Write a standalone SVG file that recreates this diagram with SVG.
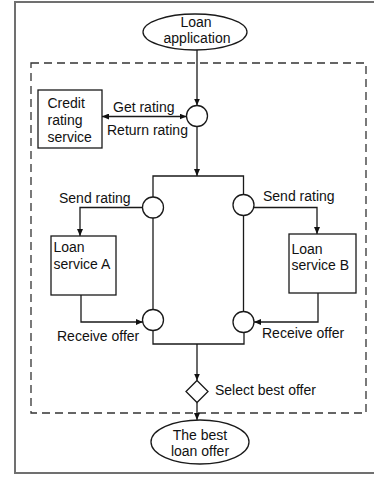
<svg xmlns="http://www.w3.org/2000/svg" width="374" height="477" viewBox="0 0 374 477">
  <defs>
    <marker id="arr" markerUnits="userSpaceOnUse" markerWidth="8" markerHeight="6" refX="7" refY="3" orient="auto-start-reverse">
      <path d="M0,0 L7,3 L0,6 z" fill="#111"/>
    </marker>
  </defs>
  <style>
    .shape { fill: #fff; stroke: #1a1a1a; stroke-width: 1.3; }
    .line { fill: none; stroke: #1a1a1a; stroke-width: 1.3; }
    .arrow { marker-end: url(#arr); }
    text { font-family: "Liberation Sans", Arial, sans-serif; font-size: 14px; fill: #111; }
    .mid { text-anchor: middle; }
  </style>

  <rect width="374" height="477" fill="#fff"/>
  <!-- outer frame -->
  <rect x="15" y="2" width="362" height="471" fill="none" stroke="#707070" stroke-width="2"/>
  <!-- process scope -->
  <rect x="31" y="63" width="335" height="350" fill="none" stroke="#333" stroke-width="1.3" stroke-dasharray="8 5"/>

  <g id="connectors">
    <line class="line arrow" x1="197" y1="50" x2="197" y2="105.5"/>
    <line class="line arrow" x1="102" y1="116.5" x2="186.5" y2="116.5" marker-start="url(#arr)"/>
    <line class="line arrow" x1="197" y1="126.5" x2="197" y2="176"/>
    <polyline class="line" points="153,197 153,176 243.5,176 243.5,194.5"/>
    <polyline class="line arrow" points="142.5,207.5 80,207.5 80,236"/>
    <polyline class="line arrow" points="254,207.5 317,207.5 317,234"/>
    <line class="line" x1="153" y1="218" x2="153" y2="309.5"/>
    <line class="line" x1="243.5" y1="216" x2="243.5" y2="311.5"/>
    <polyline class="line arrow" points="81,295 81,322 142.8,322"/>
    <polyline class="line arrow" points="318,293 318,322 254,322"/>
    <polyline class="line" points="153,330.5 153,344 244,344 244,332.5"/>
    <line class="line arrow" x1="197" y1="344" x2="197" y2="380.5"/>
    <line class="line arrow" x1="197" y1="402.5" x2="197" y2="420"/>
  </g>

  <g id="loan-application">
    <ellipse class="shape" cx="195" cy="32" rx="52" ry="18"/>
    <text class="mid" x="196" y="27">Loan</text>
    <text class="mid" x="197" y="43">application</text>
  </g>

  <g id="rating-gateway">
    <circle class="shape" cx="197" cy="116" r="10.5"/>
  </g>

  <g id="credit-rating-service">
    <rect class="shape" x="38" y="90" width="64" height="58"/>
    <text x="47.5" y="108">Credit</text>
    <text x="47.5" y="125">rating</text>
    <text x="47.5" y="142">service</text>
  </g>
  <text x="113" y="112">Get rating</text>
  <text x="107" y="135">Return rating</text>

  <g id="send-a">
    <circle class="shape" cx="153" cy="207.5" r="10.5"/>
  </g>
  <text x="59" y="203">Send rating</text>

  <g id="send-b">
    <circle class="shape" cx="243.5" cy="205" r="10.5"/>
  </g>
  <text x="263" y="201">Send rating</text>

  <g id="loan-service-a">
    <rect class="shape" x="51" y="236" width="65" height="59"/>
    <text x="53.5" y="252">Loan</text>
    <text x="53.5" y="269">service A</text>
  </g>

  <g id="loan-service-b">
    <rect class="shape" x="289" y="234" width="67" height="59"/>
    <text x="291.5" y="254">Loan</text>
    <text x="291.5" y="270">service B</text>
  </g>

  <g id="receive-a">
    <circle class="shape" cx="153" cy="320" r="10.5"/>
  </g>
  <text x="57" y="341">Receive offer</text>

  <g id="receive-b">
    <circle class="shape" cx="243.5" cy="322" r="10.5"/>
  </g>
  <text x="262" y="338">Receive offer</text>

  <g id="select-best-offer">
    <polygon class="shape" points="197,380.5 208,391.5 197,402.5 186,391.5"/>
    <text x="215" y="395">Select best offer</text>
  </g>

  <g id="best-loan-offer">
    <ellipse class="shape" cx="200" cy="442" rx="49" ry="22"/>
    <text class="mid" x="200" y="439.5">The best</text>
    <text class="mid" x="200" y="456">loan offer</text>
  </g>
</svg>
